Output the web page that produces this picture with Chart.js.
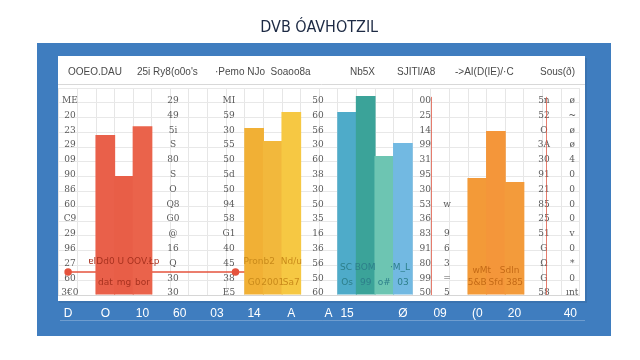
<!DOCTYPE html>
<html>
<head>
<meta charset="utf-8">
<script src="https://cdn.jsdelivr.net/npm/chart.js@4"></script>
<style>
  html, body { margin: 0; padding: 0; background: #fff; }
  #wrap { width: 640px; height: 360px; }
</style>
</head>
<body>
<div id="wrap"><canvas id="myChart" width="640" height="360"></canvas></div>
<script>
// slots along the x axis, most of them unlabeled
const categories = ['D', '', 'O', '', '10', '', '60', '', '03', '', '14', '', 'A', '',
  'A', '15', '', '', 'Ø', '', '09', '', '(0', '', '20', '', '', '40'];

const barValues = [null, null, 54.1, 40.2, 57.1, null, null, null, null, null,
  56.5, 52.1, 61.9, null, null, 61.9, 67.3, 47.0, 51.4, null, null, null,
  39.6, 55.5, 38.2, null, null, null];

const baselineValues = [7.8, 7.8, 7.8, 7.8, 7.8, 7.8, 7.8, 7.8, 7.8, 7.8, 7.8, 7.8,
  null, null, null, null, null, null, null, null, null, null, null, null, null, null, null, null];

const barColors = ['', '', '#e9604a', '#e85e47', '#ea634b', '', '', '', '', '',
  '#f1b035', '#f2b83c', '#f6c843', '', '', '#4eabc9', '#3ba399', '#6dc5b2', '#72b9e2',
  '', '', '', '#f39a38', '#f4963a', '#f39b3b', '', '', ''];

const headerLabels = ['OOEO.DAU', "25i Ry8(o0o's", '·Pemo NJo  Soaoo8a', 'Nb5X', 'SJITI/A8', '->AI(D(IE)/·C', 'Sous(ð)'];

const groupCaptions = ['ɐIDd0 U OOV.Łp', 'Pronb2  Nd/u', 'SC BOM     ·M_L', 'wMt   Sdln'];
const barCaptions = ['', '', 'dat', 'mg', 'bor', '', '', '', '', '',
  'G0', '2001', 'Sa7', '', '', 'Os', '99', 'o#', '03', '', '', '', '5&B', 'Sfd', '385', '', '', ''];

// garbled tick columns, read top (65) to bottom (0)
const colA = ['ME', '20', '23', '29', '09', '90', '86', '60', 'C9', '29', '96', '27', '60', '3€0'];
const colB = ['29', '49', '5i', 'S', '80', 'S', 'O', 'Q8', 'G0', '@', '16', 'Q', '30', '30'];
const colC = ['MI', '59', '30', '55', '50', '5d', '50', '94', '58', 'G1', '40', '45', '38', 'E5'];
const colD = ['50', '60', '56', '30', '60', '38', '30', '50', '35', '16', '36', '56', '50', '60'];
const colE = ['00', '25', '14', '99', '31', '95', '30', '53', '36', '83', '91', '80', '99', '50'];
const colF = ['', '', '', '', '', '', '', 'w', '', '9', '6', '3', '=', '5'];
const colG = ['5n', '52', 'O', '3A', '30', '91', '21', '85', '25', '51', 'G', 'Ω', 'G', '58'];
const colH = ['ø', '~', 'ø', 'ø', '4', '0', '0', '0', '0', 'v', '0', '*', '0', 'ınt'];

const tickColumns = [
  { labels: colA, pos: 0.1 },
  { labels: colB, pos: 5.64 },
  { labels: colC, pos: 8.65 },
  { labels: colD, pos: 13.44 },
  { labels: colE, pos: 19.2 },
  { labels: colF, pos: 20.37 },
  { labels: colG, pos: 25.58 },
  { labels: colH, pos: 27.1 },
];

const backdrop = {
  id: 'backdrop',
  beforeDraw(chart) {
    const c = chart.ctx;
    c.save();
    c.fillStyle = '#ffffff';
    c.fillRect(0, 0, chart.width, chart.height);
    c.fillStyle = '#3f7dbf';
    c.fillRect(37, 43, 574, 293);
    c.fillStyle = 'rgba(0,0,0,0.08)';
    c.fillRect(59, 58, 528, 245);
    c.fillStyle = '#ffffff';
    c.fillRect(58, 56, 527, 245);
    c.strokeStyle = '#d8d8d8';
    c.beginPath();
    c.moveTo(58, 84.5); c.lineTo(585, 84.5);
    c.stroke();
    c.strokeStyle = 'rgba(255,255,255,0.25)';
    c.beginPath();
    c.moveTo(60, 320.5); c.lineTo(585, 320.5);
    c.stroke();
    // header row
    c.fillStyle = '#4a4a4a';
    c.font = '10px "Liberation Sans"';
    c.textBaseline = 'middle';
    const hx = [68, 137, 215, 350, 397, 455, 540];
    headerLabels.forEach((t, i) => c.fillText(t, hx[i], 72));
    c.restore();
  },
  beforeDatasetsDraw(chart) {
    const c = chart.ctx;
    const x = chart.scales.x, y = chart.scales.y;
    const slotW = x.width / categories.length;
    const x0 = x.getPixelForValue(0);
    c.save();
    c.font = '9px "DejaVu Serif"';
    c.fillStyle = '#5a5a5a';
    c.textAlign = 'center';
    c.textBaseline = 'middle';
    tickColumns.forEach(col => {
      const px = x0 + col.pos * slotW;
      col.labels.forEach((t, k) => {
        c.fillText(t, px, y.getPixelForValue(65 - 5 * k) - 2);
      });
    });
    // red rule lines
    c.strokeStyle = 'rgba(220,80,60,0.75)';
    c.lineWidth = 1;
    [20, 26.2].forEach(s => {
      const px = Math.round(x0 + (s - 0.5) * slotW) + 0.5;
      c.beginPath();
      c.moveTo(px, y.getPixelForValue(67));
      c.lineTo(px, y.getPixelForValue(0));
      c.stroke();
    });
    c.restore();
  },
  afterDatasetsDraw(chart) {
    const c = chart.ctx;
    const x = chart.scales.x, y = chart.scales.y;
    const slotW = x.width / categories.length;
    const x0 = x.getPixelForValue(0);
    c.save();
    c.textAlign = 'center';
    c.textBaseline = 'middle';
    c.font = '9px "DejaVu Sans"';
    const capColors = ['#a8321f', '#c98a1a', '#2d7f8a', '#c46a16'];
    const capSlots = [3, 11, 16.5, 23];
    const capVals = [11.2, 11.2, 9.2, 8.2];
    groupCaptions.forEach((t, i) => {
      c.fillStyle = capColors[i];
      c.fillText(t, x0 + capSlots[i] * slotW, y.getPixelForValue(capVals[i]));
    });
    barCaptions.forEach((t, i) => {
      if (!t) return;
      const g = i < 6 ? 0 : i < 13 ? 1 : i < 20 ? 2 : 3;
      c.fillStyle = capColors[g];
      c.fillText(t, x.getPixelForValue(i), y.getPixelForValue(4.3));
    });
    c.restore();
  }
};

const ctx = document.getElementById('myChart').getContext('2d');
const myChart = new Chart(ctx, {
  type: 'bar',
  data: {
    labels: categories,
    datasets: [
      {
        label: 'bars',
        data: barValues,
        backgroundColor: barColors,
        barPercentage: 1.06,
        categoryPercentage: 1,
        order: 1,
      },
      {
        type: 'line',
        label: 'base',
        data: baselineValues,
        borderColor: '#e5533d',
        backgroundColor: '#e5533d',
        borderWidth: 1.5,
        pointRadius: (c) => (c.dataIndex === 0 || c.dataIndex === 9 ? 3 : 0),
        order: 2,
      },
    ],
  },
  options: {
    responsive: false,
    animation: false,
    layout: { padding: { left: 58.8, right: 60.4, top: 0, bottom: 35 } },
    plugins: {
      legend: { display: false },
      tooltip: { enabled: false },
      title: {
        display: true,
        text: 'DVB ÓAVHOTZIL',
        color: '#1d2a44',
        font: { family: '"DejaVu Sans Condensed", "DejaVu Sans"', size: 16, weight: 'normal' },
        padding: { top: 18, bottom: 50.8 },
      },
    },
    scales: {
      x: {
        grid: { color: '#e6e6e6', drawTicks: false },
        border: { color: '#d6d6d6' },
        ticks: {
          color: '#ffffff',
          autoSkip: false,
          maxRotation: 0,
          padding: 11,
          font: { family: '"Liberation Sans"', size: 12 },
        },
        afterFit(scale) { scale.height = 30; },
      },
      y: {
        min: 0,
        max: 70,
        ticks: { display: false, stepSize: 5 },
        grid: { color: '#e8e8e8', drawTicks: false },
        border: { display: false },
        afterFit(scale) { scale.width = 0; },
      },
    },
  },
  plugins: [backdrop],
});
</script>
</body>
</html>
